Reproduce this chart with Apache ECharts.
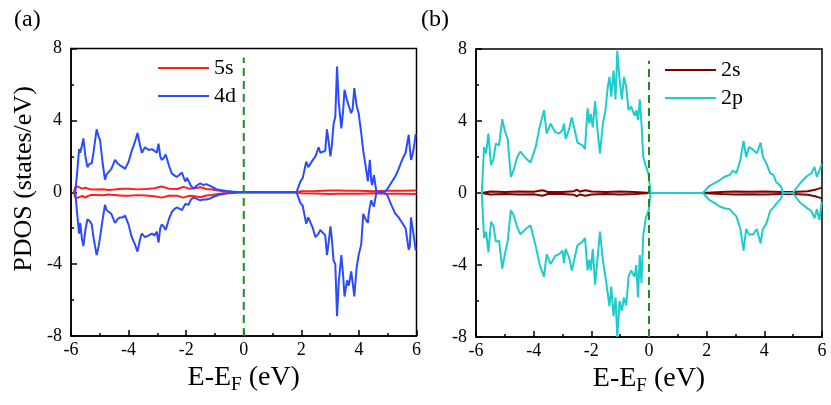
<!DOCTYPE html>
<html>
<head>
<meta charset="utf-8">
<script src="https://cdn.jsdelivr.net/npm/echarts@6/dist/echarts.min.js"></script>
<style>
  html, body { margin: 0; padding: 0; background: #fff; }
  #chart { width: 831px; height: 405px; }
</style>
</head>
<body>
<div id="chart"></div>
<script>
// ---- panel (a): 5s / 4d PDOS ----
let dE = [-5.85,-5.78,-5.72,-5.68,-5.62,-5.57,-5.5,-5.43,-5.35,-5.28,-5.22,-5.16,-5.11,-5.04,-4.99,-4.9,-4.82,-4.76,-4.7,-4.6,-4.47,-4.38,-4.3,-4.2,-4.12,-4.0,-3.89,-3.78,-3.69,-3.6,-3.54,-3.43,-3.3,-3.19,-3.1,-3.02,-2.96,-2.9,-2.85,-2.78,-2.71,-2.6,-2.5,-2.42,-2.33,-2.25,-2.15,-2.08,-2.03,-1.97,-1.92,-1.83,-1.75,-1.65,-1.51,-1.4,-1.3,-1.17,-1.05,-0.93,-0.8,-0.6,-0.4,-0.2,0,1.83,1.9,1.97,2.05,2.1,2.17,2.24,2.3,2.4,2.49,2.6,2.66,2.72,2.83,2.89,2.95,3.01,3.06,3.12,3.18,3.24,3.3,3.39,3.45,3.5,3.59,3.65,3.73,3.78,3.84,3.92,3.99,4.08,4.15,4.23,4.31,4.34,4.38,4.43,4.46,4.52,4.61,4.86,4.98,5.15,5.27,5.38,5.5,5.62,5.67,5.73,5.77,5.81,5.85,5.91,5.97,6.0];
let dUp = [0,1.2,2.4,2.2,2.6,3.0,2.0,1.4,1.6,1.6,2.2,2.3,3.5,3.1,2.9,1.6,0.7,1.0,1.1,1.3,1.8,1.6,1.5,1.4,1.3,1.7,2.3,2.8,3.3,2.6,2.2,2.5,2.35,2.4,2.3,2.2,2.7,2.0,1.8,1.9,2.1,1.5,1.05,0.95,0.85,0.95,1.1,0.8,0.6,0.8,0.7,0.35,0.2,0.35,0.5,0.4,0.45,0.35,0.25,0.15,0.12,0.07,0.04,0.02,0,0,0.3,0.6,0.8,0.9,1.7,1.4,1.5,1.8,2.0,2.5,2.2,2.1,2.3,3.5,2.8,2.0,2.6,3.8,4.2,7.0,5.0,3.55,4.5,5.7,5.1,4.8,4.4,4.6,5.8,4.8,4.4,3.3,2.3,1.5,0.6,0.5,1.8,0.6,0.4,0.95,0,0,0.15,0.6,0.9,1.3,1.8,2.2,2.1,3.2,2.4,1.8,2.0,2.5,3.2,3.2];
let dDown = [0,-1.3,-2.3,-1.7,-2.6,-3.0,-2.1,-1.5,-1.6,-1.8,-2.5,-2.6,-3.5,-3.0,-2.5,-1.5,-0.7,-1.0,-1.1,-1.2,-1.7,-1.5,-1.4,-1.4,-1.3,-1.8,-2.5,-2.9,-3.3,-2.6,-2.3,-2.5,-2.4,-2.3,-2.4,-2.2,-2.8,-2.0,-1.8,-1.9,-2.1,-1.5,-1.1,-0.95,-0.85,-0.9,-1.0,-0.8,-0.65,-0.75,-0.7,-0.4,-0.3,-0.35,-0.45,-0.4,-0.4,-0.35,-0.25,-0.18,-0.12,-0.07,-0.04,-0.02,0,0,-0.3,-0.6,-0.75,-1.2,-1.75,-1.4,-1.5,-2.0,-2.5,-2.3,-2.1,-2.15,-2.4,-3.5,-2.8,-1.9,-2.6,-3.8,-4.0,-6.9,-5.0,-3.5,-4.6,-5.8,-4.9,-5.2,-4.4,-5.0,-5.8,-4.2,-3.5,-2.9,-1.2,-1.5,-1.7,-1.2,-0.8,-0.45,-0.6,-0.8,0,0,-0.15,-0.8,-1.2,-1.4,-1.7,-2.0,-2.1,-3.2,-3.0,-1.4,-1.5,-2.5,-3.2,-3.2];

let sE = [-5.9,-5.85,-5.8,-5.75,-5.7,-5.6,-5.5,-5.4,-5.3,-5.1,-4.9,-4.7,-4.5,-4.2,-4.0,-3.7,-3.4,-3.1,-2.85,-2.6,-2.3,-2.1,-1.9,-1.7,-1.5,-1.3,-1.1,-0.9,-0.7,-0.4,0,1.8,2.0,2.5,3.0,3.3,3.6,4.0,4.5,5.0,5.5,6.0];
let sUp = [0,0.3,0.4,0.3,0.25,0.2,0.25,0.2,0.15,0.15,0.17,0.13,0.15,0.2,0.2,0.16,0.18,0.22,0.32,0.2,0.18,0.3,0.2,0.22,0.28,0.18,0.15,0.1,0.05,0.02,0,0,0.05,0.07,0.1,0.1,0.08,0.08,0.06,0.08,0.08,0.1];
let sDown = [0,-0.3,-0.4,-0.3,-0.25,-0.2,-0.3,-0.2,-0.15,-0.15,-0.17,-0.13,-0.15,-0.2,-0.2,-0.16,-0.18,-0.22,-0.3,-0.2,-0.2,-0.3,-0.2,-0.22,-0.28,-0.18,-0.15,-0.1,-0.05,-0.02,0,0,-0.05,-0.07,-0.1,-0.08,-0.08,-0.08,-0.06,-0.08,-0.08,-0.1];

// ---- panel (b): 2s / 2p PDOS ----
let pE = [-5.8,-5.72,-5.65,-5.57,-5.48,-5.4,-5.31,-5.2,-5.09,-5.0,-4.9,-4.79,-4.69,-4.57,-4.46,-4.28,-4.11,-3.93,-3.79,-3.64,-3.55,-3.41,-3.26,-3.12,-3.0,-2.95,-2.89,-2.77,-2.68,-2.6,-2.48,-2.31,-2.22,-2.13,-2.07,-2.02,-1.95,-1.87,-1.78,-1.7,-1.6,-1.51,-1.43,-1.37,-1.31,-1.23,-1.16,-1.1,-1.02,-0.94,-0.87,-0.79,-0.71,-0.62,-0.5,-0.44,-0.38,-0.32,-0.26,-0.2,-0.11,-0.01,0.05,1.87,2.1,2.27,2.45,2.62,2.8,2.91,3.03,3.17,3.28,3.37,3.47,3.61,3.74,3.87,3.95,4.07,4.2,4.32,4.41,4.5,4.58,4.64,4.99,5.22,5.45,5.63,5.74,5.82,5.91,5.99];
let pUp = [0,2.55,2.2,3.3,1.55,1.85,2.75,2.65,4.1,3.45,3.0,0.9,1.3,2.0,2.3,1.95,1.7,2.55,3.7,4.6,3.3,3.85,3.4,3.3,3.5,3.85,3.0,3.55,4.2,3.65,2.8,2.65,2.45,4.7,3.85,4.4,3.65,5.1,3.4,2.2,3.85,4.6,5.9,6.45,5.35,6.8,5.2,7.9,6.3,5.2,6.45,5.9,4.6,4.8,4.3,4.6,4.05,5.2,3.85,2.0,1.5,1.0,0,0,0.4,0.55,0.7,0.9,1.0,1.25,1.1,1.85,2.9,2.0,2.55,2.4,2.2,2.8,2.0,1.65,1.1,1.0,0.6,0.5,0.35,0,0,0.5,0.9,1.1,1.45,0.9,1.25,1.6];
let pDown = [0,-2.5,-2.15,-3.3,-1.6,-1.8,-2.7,-2.65,-4.2,-3.4,-2.65,-0.95,-1.25,-1.9,-2.3,-2.0,-1.8,-2.95,-4.0,-4.65,-3.4,-3.95,-3.5,-3.4,-3.2,-3.9,-3.1,-3.6,-4.3,-3.75,-2.9,-2.7,-2.5,-4.3,-3.7,-4.3,-3.1,-5.1,-3.55,-2.15,-3.75,-4.65,-5.6,-6.3,-5.2,-6.85,-5.8,-8.0,-6.0,-6.55,-5.8,-6.25,-4.65,-4.3,-4.65,-4.0,-5.8,-3.45,-5.0,-2.35,-1.4,-0.95,0,0,-0.4,-0.55,-0.75,-0.85,-0.9,-1.1,-1.3,-2.0,-3.2,-2.0,-2.3,-2.3,-2.0,-2.8,-2.0,-1.7,-1.0,-0.8,-0.6,-0.45,-0.3,0,0,-0.5,-0.8,-1.0,-1.4,-0.9,-1.5,-0.5];

let qE = [-5.8,-5.5,-5.0,-4.5,-4.0,-3.7,-3.5,-3.0,-2.6,-2.5,-2.4,-2.2,-2.0,-1.5,-1.0,-0.5,0.05,1.87,2.5,3.0,3.5,4.0,4.6,5.0,5.5,5.8,6.0];
let qUp = [0,0.08,0.06,0.08,0.07,0.15,0.06,0.05,0.1,0.18,0.08,0.15,0.08,0.06,0.08,0.06,0,0,0.06,0.08,0.07,0.08,0.05,0.05,0.1,0.2,0.3];
let qDown = [0,-0.08,-0.06,-0.08,-0.07,-0.15,-0.06,-0.05,-0.1,-0.18,-0.08,-0.15,-0.08,-0.06,-0.08,-0.06,0,0,-0.06,-0.08,-0.07,-0.08,-0.05,-0.05,-0.1,-0.2,-0.3];

// Fermi level marker (x = 0)
let fermiX = [0, 0];
let fermiYa = [-8, 7.5];
let fermiYb = [-8, 7.35];

let xTicks = { min: -6, max: 6, interval: 2 };
let yTicks = { min: -8, max: 8, interval: 4 };

const FONT = '"Liberation Serif", "Times New Roman", serif';

function pairs(xs, ys) {
    return xs.map((x, i) => [x, ys[i]]);
}

function xAxisFor(idx) {
    return {
        gridIndex: idx, type: 'value',
        min: xTicks.min, max: xTicks.max, interval: xTicks.interval,
        name: '{a|E-E}{b|F}{a| (eV)}',
        nameLocation: 'middle', nameGap: 24,
        nameTextStyle: {
            rich: {
                a: { fontSize: 28, fontFamily: FONT, color: '#000' },
                b: { fontSize: 19, fontFamily: FONT, color: '#000', padding: [14, 0, 0, 0] }
            }
        },
        axisLine: { onZero: false, lineStyle: { color: '#000', width: 1.5 } },
        axisTick: { inside: true, length: 6, lineStyle: { color: '#000', width: 1.5 } },
        minorTick: { show: true, splitNumber: 2, length: 3, lineStyle: { color: '#000', width: 1.5 } },
        axisLabel: { color: '#000', fontSize: 18, fontFamily: FONT, margin: 5 },
        splitLine: { show: false }
    };
}

function yAxisFor(idx) {
    return {
        gridIndex: idx, type: 'value',
        min: yTicks.min, max: yTicks.max, interval: yTicks.interval,
        axisLine: { onZero: false, lineStyle: { color: '#000', width: 1.5 } },
        axisTick: { inside: true, length: 6, lineStyle: { color: '#000', width: 1.5 } },
        minorTick: { show: true, splitNumber: 2, length: 3, lineStyle: { color: '#000', width: 1.5 } },
        axisLabel: { color: '#000', fontSize: 18, fontFamily: FONT, margin: 9 },
        splitLine: { show: false }
    };
}

function curve(name, idx, xs, ys, color) {
    return {
        name: name, type: 'line', xAxisIndex: idx, yAxisIndex: idx,
        data: pairs(xs, ys), symbol: 'none', silent: true,
        lineStyle: { color: color, width: 2 }, itemStyle: { color: color }
    };
}

function fermi(idx, ys) {
    return {
        type: 'line', xAxisIndex: idx, yAxisIndex: idx,
        data: pairs(fermiX, ys), symbol: 'none', silent: true,
        lineStyle: { color: '#1e8c1e', width: 2, type: [8, 5] }
    };
}

function legendAt(names, left, top) {
    return {
        data: names, orient: 'vertical', left: left, top: top,
        icon: 'rect', itemWidth: 51, itemHeight: 2, itemGap: 6,
        textStyle: { fontSize: 22, fontFamily: FONT, color: '#000' }
    };
}

let myChart = echarts.init(document.getElementById('chart'));

let option = {
    animation: false,
    backgroundColor: '#fff',
    grid: [
        { left: 71, top: 48.5, width: 345.5, height: 287.5, show: true, borderColor: '#000', borderWidth: 1.5 },
        { left: 476, top: 49, width: 346, height: 288, show: true, borderColor: '#000', borderWidth: 1.5 }
    ],
    xAxis: [xAxisFor(0), xAxisFor(1)],
    yAxis: [yAxisFor(0), yAxisFor(1)],
    legend: [legendAt(['5s', '4d'], 153, 52), legendAt(['2s', '2p'], 660, 54)],
    graphic: [
        { type: 'text', left: 14, top: 8, style: { text: '(a)', fontSize: 24, fontFamily: FONT, fill: '#000' } },
        { type: 'text', left: 421, top: 8, style: { text: '(b)', fontSize: 24, fontFamily: FONT, fill: '#000' } },
        {
            type: 'text', x: 24, y: 179, rotation: Math.PI / 2,
            style: { text: 'PDOS (states/eV)', fontSize: 26, fontFamily: FONT, fill: '#000', align: 'center', verticalAlign: 'middle' }
        }
    ],
    series: [
        curve('5s', 0, sE, sUp, '#ff1f1f'),
        curve('5s', 0, sE, sDown, '#ff1f1f'),
        curve('4d', 0, dE, dUp, '#2a4bff'),
        curve('4d', 0, dE, dDown, '#2a4bff'),
        fermi(0, fermiYa),
        curve('2s', 1, qE, qUp, '#820000'),
        curve('2s', 1, qE, qDown, '#820000'),
        curve('2p', 1, pE, pUp, '#1fcccc'),
        curve('2p', 1, pE, pDown, '#1fcccc'),
        fermi(1, fermiYb)
    ]
};

myChart.setOption(option, true);
</script>
</body>
</html>
